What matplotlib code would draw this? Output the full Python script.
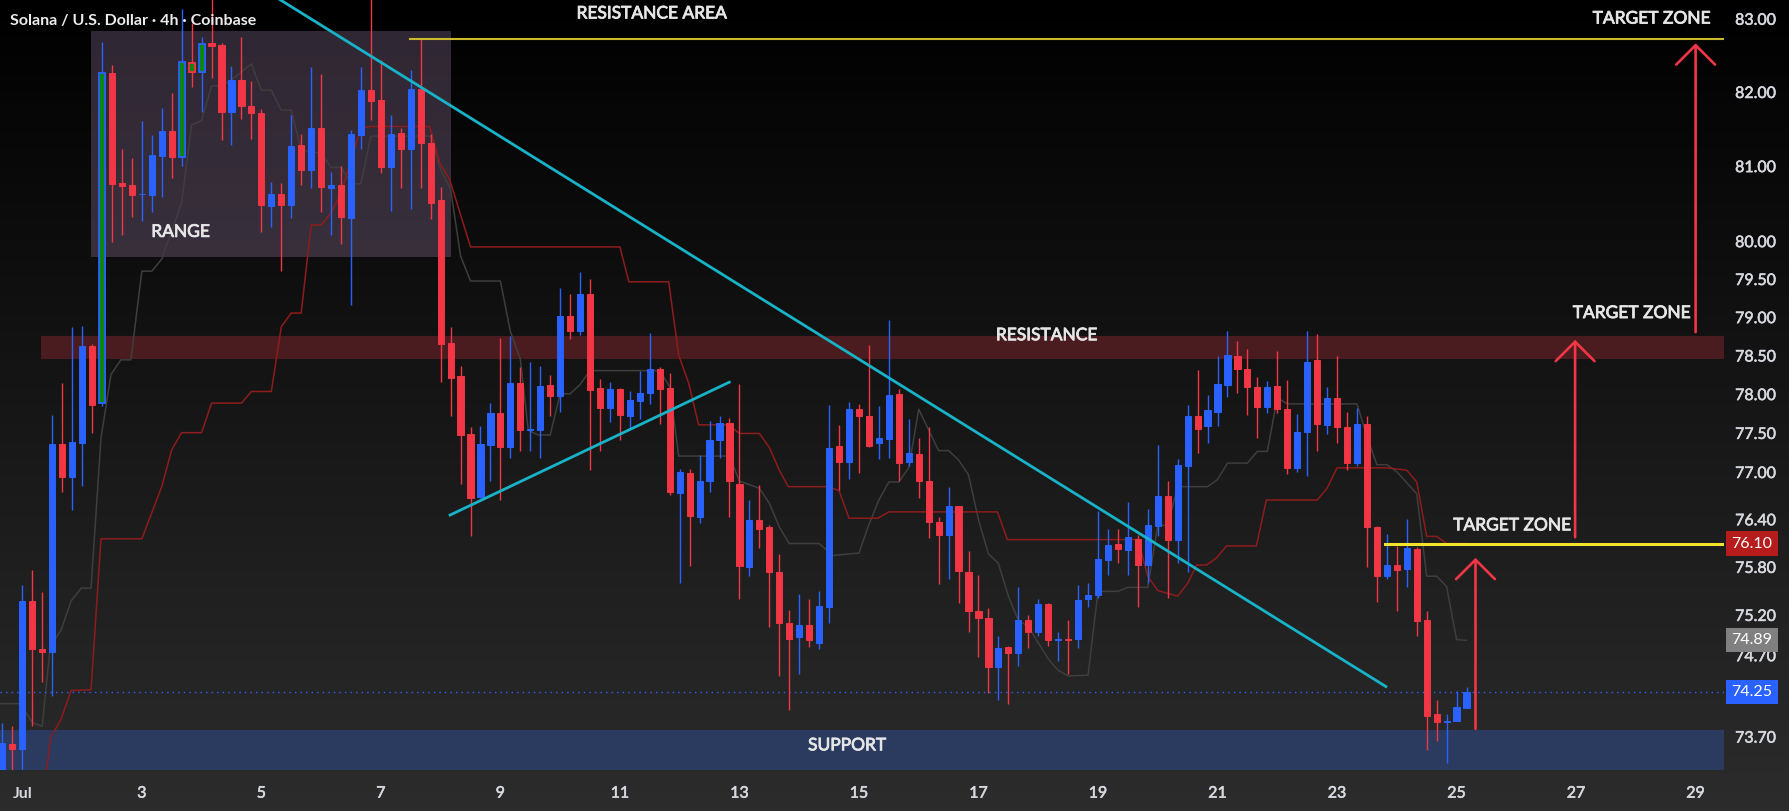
import matplotlib
matplotlib.use("Agg")
import matplotlib.pyplot as plt
import matplotlib.ticker as mticker
import matplotlib.transforms as mtransforms
import matplotlib.patheffects as pe
from matplotlib.colors import LinearSegmentedColormap
from matplotlib.patches import Rectangle
import numpy as np

plt.rcParams['font.family'] = ['Lato', 'DejaVu Sans']

# SOL/USD 4h candles, bar 0 = Jul 1 00:00
first_bar = -2
opens = [73.15, 73.62, 73.56, 75.38, 74.78, 74.74, 77.37, 76.94, 77.38, 78.63,
         77.89, 82.27, 80.78, 80.75, 80.63, 80.62, 81.14, 81.48, 81.13, 82.40,
         82.28, 82.67, 82.65, 81.74, 82.17, 81.81, 81.72, 80.48, 80.63, 80.49,
         81.29, 80.96, 81.52, 80.72, 80.76, 80.32, 81.43, 82.04, 81.90, 80.99,
         81.45, 81.24, 82.05, 81.32, 80.55, 78.67, 78.24, 77.49, 76.69, 77.35,
         77.76, 77.32, 78.15, 77.54, 77.55, 78.12, 77.98, 79.02, 78.83, 79.31,
         78.08, 77.83, 78.07, 77.73, 77.92, 78.02, 78.33, 78.08, 76.74, 77.00,
         76.43, 76.89, 77.41, 77.63, 76.86, 75.80, 76.40, 76.31, 75.74, 75.11,
         74.93, 75.08, 74.86, 75.31, 77.34, 77.14, 77.82, 77.73, 77.38, 77.43,
         78.01, 77.13, 77.24, 76.89, 76.37, 76.21, 76.57, 75.74, 75.25, 75.17,
         74.56, 74.81, 74.73, 75.14, 74.99, 75.34, 74.90, 74.91, 74.91, 75.40,
         75.46, 75.89, 76.09, 76.02, 76.16, 75.83, 76.32, 76.70, 76.15, 77.08,
         77.73, 77.59, 77.77, 78.13, 78.50, 78.33, 78.10, 77.84, 78.11, 77.81,
         77.06, 77.52, 78.45, 77.61, 77.95, 77.58, 77.12, 77.62, 76.31, 75.69,
         75.83, 75.78, 76.03, 75.14, 73.98, 73.88, 73.90, 74.06]
highs = [73.87, 73.83, 75.58, 75.77, 75.49, 77.74, 78.15, 78.88, 78.89, 78.65,
         82.69, 82.37, 81.23, 81.11, 81.61, 81.42, 81.79, 81.99, 83.14, 82.95,
         82.75, 83.35, 82.67, 82.36, 82.75, 82.16, 81.77, 80.79, 80.78, 81.69,
         81.44, 82.35, 82.25, 80.93, 81.01, 81.49, 82.35, 83.35, 82.44, 81.70,
         81.52, 82.30, 82.74, 81.44, 80.73, 78.88, 78.37, 77.58, 77.59, 77.89,
         78.73, 78.76, 78.36, 78.42, 78.37, 78.25, 79.39, 79.31, 79.60, 79.51,
         78.20, 78.16, 78.08, 78.05, 78.30, 78.80, 78.36, 78.28, 77.04, 77.04,
         77.22, 77.66, 77.73, 77.70, 78.14, 76.65, 76.84, 76.34, 75.97, 75.27,
         75.47, 75.41, 75.51, 77.86, 77.61, 77.90, 77.88, 78.64, 77.85, 78.97,
         78.07, 77.69, 77.44, 77.58, 76.43, 76.81, 76.58, 76.00, 75.70, 75.29,
         74.95, 74.82, 75.56, 75.20, 75.41, 75.35, 74.99, 75.14, 75.58, 75.60,
         76.51, 76.28, 76.28, 76.63, 76.21, 76.54, 77.35, 76.89, 77.17, 77.87,
         78.32, 78.00, 78.50, 78.82, 78.70, 78.59, 78.23, 78.17, 78.56, 78.19,
         77.75, 78.82, 78.78, 78.10, 78.50, 77.78, 77.83, 77.72, 76.32, 76.22,
         76.07, 76.41, 76.06, 75.25, 74.16, 73.98, 74.26, 74.31]
lows = [73.05, 73.10, 73.20, 73.84, 74.37, 74.20, 76.75, 76.53, 76.83, 77.50,
        77.85, 79.99, 80.09, 80.33, 80.27, 80.39, 80.60, 80.85, 81.01, 82.08,
        81.74, 82.20, 81.36, 81.29, 81.64, 81.37, 80.13, 80.19, 79.61, 80.31,
        80.75, 80.72, 80.39, 80.09, 79.97, 79.17, 81.23, 81.63, 80.92, 80.41,
        80.71, 80.44, 80.71, 80.30, 78.16, 77.73, 76.85, 76.19, 76.67, 76.89,
        76.65, 77.18, 77.27, 77.27, 77.19, 77.73, 77.77, 78.72, 78.77, 77.03,
        77.28, 77.65, 77.42, 77.56, 77.69, 77.88, 77.62, 76.71, 75.61, 75.82,
        76.36, 76.75, 77.19, 76.43, 75.40, 75.69, 76.05, 75.05, 74.45, 74.03,
        74.48, 74.81, 74.78, 75.11, 76.78, 76.92, 77.00, 77.33, 77.17, 77.19,
        76.89, 77.08, 76.67, 76.17, 75.59, 75.66, 75.35, 74.99, 74.69, 74.24,
        74.16, 74.10, 74.57, 74.79, 74.95, 74.82, 74.64, 74.48, 74.79, 75.30,
        75.42, 75.71, 75.86, 75.71, 75.31, 75.60, 76.19, 75.42, 75.85, 75.74,
        77.25, 77.38, 77.60, 77.97, 78.02, 77.74, 77.44, 77.76, 77.76, 76.98,
        77.01, 76.96, 77.27, 77.49, 77.38, 77.03, 77.08, 75.81, 75.37, 75.66,
        75.25, 75.55, 74.94, 73.54, 73.65, 73.39, 73.90, 74.06]
closes = [73.63, 73.56, 75.38, 74.78, 74.74, 77.37, 76.94, 77.39, 78.63, 77.87,
          82.27, 80.77, 80.74, 80.62, 80.64, 81.15, 81.48, 81.13, 82.41, 82.28,
          82.66, 82.64, 81.74, 82.17, 81.81, 81.72, 80.49, 80.63, 80.49, 81.28,
          80.96, 81.52, 80.73, 80.76, 80.33, 81.44, 82.04, 81.89, 81.00, 81.44,
          81.24, 82.05, 81.32, 80.52, 78.65, 78.22, 77.48, 76.68, 77.36, 77.76,
          77.32, 78.15, 77.54, 77.56, 78.11, 77.98, 79.02, 78.82, 79.31, 78.06,
          77.83, 78.07, 77.74, 77.93, 78.02, 78.33, 78.07, 76.75, 77.01, 76.45,
          76.89, 77.41, 77.63, 76.89, 75.82, 76.40, 76.28, 75.74, 75.10, 74.91,
          75.08, 74.89, 75.32, 77.31, 77.13, 77.81, 77.73, 77.34, 77.44, 77.99,
          77.12, 77.25, 76.89, 76.37, 76.21, 76.57, 75.75, 75.26, 75.17, 74.56,
          74.79, 74.73, 75.14, 74.99, 75.34, 74.90, 74.91, 74.90, 75.39, 75.46,
          75.90, 76.08, 76.03, 76.18, 75.83, 76.33, 76.70, 76.15, 77.09, 77.72,
          77.56, 77.80, 78.14, 78.51, 78.33, 78.10, 77.84, 78.10, 77.82, 77.06,
          77.52, 78.42, 77.62, 77.95, 77.58, 77.12, 77.62, 76.31, 75.69, 75.83,
          75.77, 76.05, 75.13, 73.96, 73.88, 73.90, 74.07, 74.25]

# bars painted green by the indicator
marked_bars = [8, 16, 17, 18]

# indicator lines, (bar, price)
gray_line = [(-2.2, 74.11), (-0.2, 74.11), (1, 73.88), (2, 73.83), (2.8, 74.81),
             (3.9, 75.02), (4.9, 75.38), (5.9, 75.54), (6.9, 75.54), (7.9, 77.44),
             (8.9, 78.26), (9.9, 78.45), (10.9, 78.45), (12, 79.61), (13, 79.61),
             (14, 79.77), (16, 80.52), (17, 81.56), (18, 81.62), (19, 82.09),
             (20, 82.09), (21, 82.17), (23, 82.39), (24, 82.03), (25, 82.03),
             (26, 81.76), (27, 81.76), (28, 81.22), (30, 81.18), (31, 80.99),
             (32, 80.99), (33, 80.77), (34, 80.77), (35, 81.41), (41, 81.41),
             (42, 80.96), (43, 80.70), (44, 79.81), (45, 79.48), (48, 79.48),
             (49, 78.82), (50, 78.46), (50.8, 77.54), (51.8, 77.48), (53, 77.48),
             (54, 78.01), (55, 78.01), (56, 78.13), (57, 78.31), (64, 78.31),
             (65, 78.10), (65.9, 77.21), (71, 77.21), (72, 76.89), (74, 76.80),
             (75, 76.61), (76, 76.31), (77, 76.10), (80, 76.10), (81.4, 75.95),
             (84, 75.98), (85, 76.34), (86, 76.65), (87, 76.88), (88, 76.88),
             (89, 77.06), (90, 77.81), (92, 77.28), (93, 77.28), (94, 77.16),
             (95, 76.97), (96, 76.40), (97, 75.97), (98, 75.85), (99, 75.44),
             (100, 75.14), (101, 75.06), (103, 74.66), (104, 74.52), (105, 74.45),
             (107, 74.46), (108, 75.50), (110, 75.50), (111, 75.55), (113, 75.55),
             (114, 76.33), (115, 76.33), (116, 76.82), (119, 76.82), (120, 76.91),
             (121, 77.12), (123, 77.12), (124, 77.27), (125, 77.27), (126, 77.96),
             (127, 77.88), (134, 77.88), (135, 77.46), (136, 77.10), (137, 77.10),
             (138, 77.01), (140, 76.73), (141, 75.69), (142, 75.69), (143, 75.56),
             (144, 74.90), (145, 74.89)]
red_line = [(2.35, 73.22), (2.85, 73.70), (3.86, 73.91), (4.9, 74.27), (6.9, 74.28),
            (7.9, 76.16), (12, 76.16), (14, 76.82), (15, 77.29), (16, 77.51),
            (18, 77.51), (19, 77.89), (22, 77.89), (23, 78.04), (25, 78.04),
            (26, 78.88), (27, 79.06), (28, 79.06), (29, 80.22), (30, 80.22),
            (31, 80.38), (32, 80.64), (33, 81.09), (34, 81.52), (35, 81.54),
            (40.9, 81.54), (41.9, 81.05), (42.9, 80.83), (45, 79.93), (60, 79.93),
            (60.9, 79.47), (64.9, 79.47), (65.9, 78.51), (66.9, 78.15), (67.9, 77.61),
            (70.9, 77.61), (72, 77.50), (74, 77.50), (75, 77.32), (76, 77.03),
            (76.9, 76.82), (80.9, 76.82), (82, 76.77), (83, 76.42), (85.9, 76.42),
            (87, 76.50), (97.9, 76.50), (98.9, 76.15), (112, 76.15), (113, 75.69),
            (114, 75.51), (116, 75.44), (117, 75.60), (117.9, 75.83), (118.9, 75.83),
            (119.9, 75.92), (120.9, 76.07), (123.9, 76.07), (124.9, 76.65), (130, 76.65),
            (131, 76.80), (132, 77.06), (137, 77.06), (139, 77.03), (140, 76.88),
            (141, 76.19), (142, 76.19), (143, 76.10), (145, 76.10)]

day_numbers = [1, 3, 5, 7, 9, 11, 13, 15, 17, 19, 21, 23, 25, 27, 29]
day_labels = ['Jul', '3', '5', '7', '9', '11', '13', '15', '17', '19', '21', '23', '25', '27', '29']
price_ticks = [83.0, 82.0, 81.0, 80.0, 79.5, 79.0, 78.5, 78.0, 77.5, 77.0, 76.4, 75.8, 75.2, 74.7, 73.7]

range_bars = (6.9, 43.0)
range_prices = (79.80, 82.84)
resistance_band = (78.46, 78.76)
support_band = (73.0, 73.79)
resistance_area = 82.73
resistance_area_start = 38.9
target_level = 76.10
target_start = 136.8
last_price = 74.25
gray_last = 74.89
downtrend = [(25.87, 83.27), (136.9, 74.32)]
uptrend = [(42.95, 76.46), (70.98, 78.16)]
# (bar, from price, to price)
arrows = [(145.9, 73.80, 75.92), (155.9, 76.18, 78.71), (168.0, 78.81, 82.67)]

BLUE = '#2962ff'
RED = '#f23645'
TXT = '#e6e6e6'
AX_TXT = '#d6d8de'

fig = plt.figure(figsize=(17.89, 8.11), dpi=100)

# background gradient
bg = fig.add_axes([0, 0, 1, 1], zorder=-5)
grad = np.linspace(0, 1, 256).reshape(-1, 1)
bg.imshow(grad, aspect='auto', origin='upper', extent=[0, 1, 0, 1],
          cmap=LinearSegmentedColormap.from_list('bg', ['#000000', '#2c2c2c']))
bg.axis('off')

ax = fig.add_axes([0, 41 / 811, 1724 / 1789, 770 / 811])
ax.patch.set_alpha(0)
ax.set_yscale('log')
ax.set_xlim(-2.24, 170.85)
ax.set_ylim(73.30, 83.265)
for s in ax.spines.values():
    s.set_visible(False)

# zones
ax.add_patch(Rectangle((range_bars[0], range_prices[0]), range_bars[1] - range_bars[0],
                       range_prices[1] - range_prices[0], fc='#9c7fa8', alpha=0.3,
                       ec='none', zorder=1))
ax.axhspan(*resistance_band, xmin=(1.88 + 2.24) / 173.09, color='#4a1c20', lw=0, zorder=1)
ax.axhspan(*support_band, color='#2b3a5f', lw=0, zorder=1)

# indicator lines
gx, gy = zip(*gray_line)
ax.plot(gx, gy, color='#3e3e3e', lw=1.1, zorder=2)
rx, ry = zip(*red_line)
ax.plot(rx, ry, color='#8e1c1c', lw=1.1, zorder=2)

ax.axhline(last_price, color=BLUE, lw=1, ls=(0, (1, 3)), zorder=2)

# candles
x = np.arange(len(opens)) + first_bar
o, h, l, c = map(np.array, (opens, highs, lows, closes))
cols = np.where(c >= o, BLUE, RED)
ax.vlines(x, l, h, colors=cols, lw=1, zorder=3)
ax.bar(x, c - o, bottom=o, width=0.62, color=cols, edgecolor=cols, linewidth=0.7, zorder=4)
for b in marked_bars:
    i = b - first_bar
    ax.bar(b, c[i] - o[i], bottom=o[i], width=0.6, color='#0c870c', edgecolor=cols[i],
           linewidth=1.3, zorder=5)

# drawings
ax.plot([resistance_area_start, 171], [resistance_area] * 2, color='#c9b92b', lw=1.5, zorder=6)
ax.plot([target_start, 171], [target_level] * 2, color='#f3e32c', lw=2.2, zorder=6)
dx, dy = zip(*downtrend)
ax.plot(dx, dy, color='#17b3c8', lw=2, zorder=6)
ux, uy = zip(*uptrend)
ax.plot(ux, uy, color='#17b3c8', lw=2, zorder=6)

for bx, p0, p1 in arrows:
    ax.annotate('', xy=(bx, p1), xytext=(bx, p0),
                arrowprops=dict(arrowstyle='->,head_length=1,head_width=1', color=RED,
                                lw=1.9, mutation_scale=14, shrinkA=0, shrinkB=0),
                zorder=7)

thick = [pe.withStroke(linewidth=0.6, foreground=TXT)]
lab = dict(color=TXT, fontsize=12.5, ha='center', va='center', zorder=8, path_effects=thick)
ax.text(15.9, 80.13, 'RANGE', **lab)
ax.text(63.2, 83.08, 'RESISTANCE AREA', **lab)
ax.text(102.85, 78.77, 'RESISTANCE', **lab)
ax.text(82.8, 73.60, 'SUPPORT', **lab)
ax.text(149.6, 76.33, 'TARGET ZONE', **lab)
ax.text(161.6, 79.06, 'TARGET ZONE', **lab)
ax.text(163.6, 83.01, 'TARGET ZONE', **lab)

# axes
ax.set_yticks(price_ticks)
ax.set_yticklabels([f'{p:.2f}' for p in price_ticks])
ax.yaxis.set_minor_locator(mticker.NullLocator())
ax.yaxis.tick_right()
ax.tick_params(axis='y', length=0, pad=8, labelsize=11.5, labelcolor=AX_TXT)
ax.set_xticks([6 * (d - 1) for d in day_numbers])
ax.set_xticklabels(day_labels)
ax.tick_params(axis='x', length=0, pad=12, labelsize=11.5, labelcolor=AX_TXT)
ax.get_xticklabels()[0].set_fontweight('bold')
for t in ax.get_yticklabels() + ax.get_xticklabels()[1:]:
    t.set_path_effects([pe.withStroke(linewidth=0.4, foreground=AX_TXT)])

trans = mtransforms.blended_transform_factory(fig.transFigure, ax.transData)
for val, fc in [(target_level, '#b71c1c'), (gray_last, '#808080'), (last_price, BLUE)]:
    ax.text(1752 / 1789, val, f'{val:.2f}', transform=trans, ha='center', va='center',
            color='white', fontsize=11.5, clip_on=False, zorder=10,
            bbox=dict(boxstyle='square,pad=0.32', fc=fc, ec='none'))

fig.text(10 / 1789, 1 - 21 / 811, 'Solana / U.S. Dollar · 4h · Coinbase', color='#ececec',
         fontsize=11.5, fontweight='bold', ha='left', va='center')

fig.savefig('out.png', dpi=100)
